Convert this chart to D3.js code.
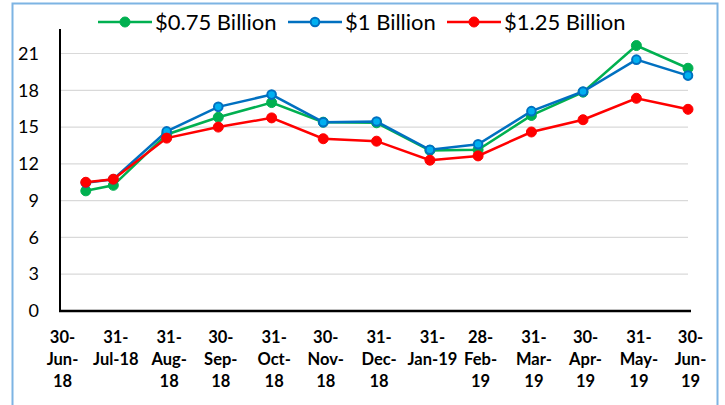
<!DOCTYPE html>
<html><head><meta charset="utf-8">
<script src="https://cdn.jsdelivr.net/npm/d3@7"></script>
<style>body{margin:0;background:#fff}svg{display:block}</style>
</head><body>
<svg id="c" width="725" height="405"></svg>
<script>
const pointDates = ["2018-07-15","2018-07-31","2018-08-31","2018-09-30","2018-10-31","2018-11-30","2018-12-31","2019-01-31","2019-02-28","2019-03-31","2019-04-30","2019-05-31","2019-06-30"];
const tickDates = ["2018-06-30","2018-07-31","2018-08-31","2018-09-30","2018-10-31","2018-11-30","2018-12-31","2019-01-31","2019-02-28","2019-03-31","2019-04-30","2019-05-31","2019-06-30"];
const tickLabels = [["30-","Jun-","18"],["31-","Jul-18"],["31-","Aug-","18"],["30-","Sep-","18"],["31-","Oct-","18"],["30-","Nov-","18"],["31-","Dec-","18"],["31-","Jan-19"],["28-","Feb-","19"],["31-","Mar-","19"],["30-","Apr-","19"],["31-","May-","19"],["30-","Jun-","19"]];
const yTicks = [0,3,6,9,12,15,18,21];
const seriesNames = ["$0.75 Billion","$1 Billion","$1.25 Billion"];
const s075 = [9.8,10.25,14.4,15.8,17.0,15.4,15.35,13.1,13.15,15.95,17.85,21.65,19.8];
const s100 = [10.45,10.75,14.65,16.65,17.65,15.4,15.45,13.15,13.6,16.3,17.9,20.5,19.2];
const s125 = [10.5,10.75,14.1,15.0,15.75,14.05,13.85,12.3,12.65,14.6,15.6,17.35,16.45];

const parse = d3.utcParse("%Y-%m-%d");
const svg = d3.select("#c");
const font = "Lato, 'Open Sans', sans-serif";

svg.append("rect").attr("x",12.5).attr("y",3.5).attr("width",705).attr("height",420)
  .attr("fill","none").attr("stroke","#7db4e3").attr("stroke-width",2);

const x = d3.scaleUtc().domain([parse("2018-06-30"), parse("2019-06-30")]).range([60, 688]);
const y = d3.scaleLinear().domain([0, 23]).range([311, 29]);

// gridlines
svg.append("g").selectAll("line").data(yTicks.filter(d=>d>0)).join("line")
  .attr("x1",60).attr("x2",688).attr("y1",d=>y(d)).attr("y2",d=>y(d))
  .attr("stroke","#d9d9d9").attr("stroke-width",1.2);

// y axis
const yAxis = svg.append("g").attr("transform","translate(60,0)")
  .call(d3.axisLeft(y).tickValues(yTicks).tickSize(0).tickPadding(21));
yAxis.select(".domain").remove();
yAxis.selectAll("text").attr("font-family",font).attr("font-size",18).attr("fill","#000");
svg.append("line").attr("x1",60).attr("x2",60).attr("y1",29).attr("y2",312)
  .attr("stroke","#000").attr("stroke-width",2);

// x axis
const xAxis = svg.append("g").attr("transform","translate(0,311)")
  .call(d3.axisBottom(x).tickValues(tickDates.map(parse)).tickSize(0).tickFormat(""));
xAxis.select(".domain").remove();
svg.append("line").attr("x1",59).attr("x2",691).attr("y1",311).attr("y2",311)
  .attr("stroke","#000").attr("stroke-width",2.5);
xAxis.selectAll(".tick").each(function(d,i){
  const t = d3.select(this).append("text").attr("font-family",font).attr("font-weight","bold")
    .attr("font-size",16.5).attr("fill","#000").attr("text-anchor","middle");
  tickLabels[i].forEach((s,j)=>{
    t.append("tspan").attr("x",2).attr("y",32 + j*22).text(s);
  });
});

const colors = ["#00b050","#0070c0","#ff0000"];
const fills = ["#00b050","#00b0f0","#ff0000"];
const data = [s075,s100,s125];
const line = d3.line().x((d,i)=>x(parse(pointDates[i]))).y(d=>y(d));
data.forEach((s,k)=>{
  const g = svg.append("g");
  g.append("path").datum(s).attr("d",line).attr("fill","none")
    .attr("stroke",colors[k]).attr("stroke-width",2.5);
  g.selectAll("circle").data(s).join("circle")
    .attr("cx",(d,i)=>x(parse(pointDates[i]))).attr("cy",d=>y(d)).attr("r",k===1?4.3:5)
    .attr("fill",fills[k]).attr("stroke",colors[k]).attr("stroke-width",k===1?2:1);
});

// legend
const legX = [98, 288, 447];
seriesNames.forEach((n,k)=>{
  const g = svg.append("g").attr("transform",`translate(${legX[k]},22)`);
  g.append("line").attr("x1",0).attr("x2",54).attr("y1",0).attr("y2",0)
    .attr("stroke",colors[k]).attr("stroke-width",2.5);
  g.append("circle").attr("cx",27).attr("cy",0).attr("r",k===1?4.3:5)
    .attr("fill",fills[k]).attr("stroke",colors[k]).attr("stroke-width",k===1?2:1);
  g.append("text").attr("x",57).attr("y",8).attr("font-family",font).attr("font-size",22)
    .attr("fill","#000").text(n);
});
</script>
</body></html>
